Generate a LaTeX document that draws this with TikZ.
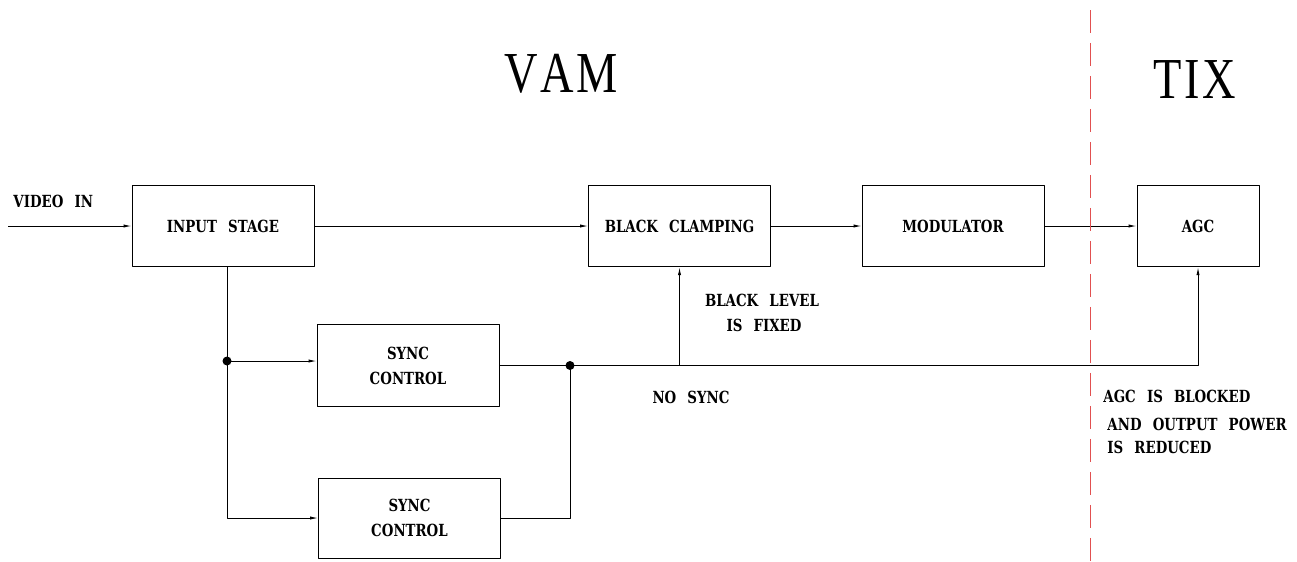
\documentclass[tikz,border=0pt]{standalone}
\usepackage{fontspec}
\setmainfont{DejaVu Serif}[FakeStretch=0.8, WordSpace=2.4]
\newfontfamily\titlefont{Liberation Serif}
\usetikzlibrary{arrows.meta,calc}
\definecolor{cutred}{RGB}{225,80,80}
\tikzset{
  blk/.style={draw, line width=0.5pt, minimum width=3.64cm, minimum height=1.63cm, align=center, inner sep=0pt},
  lbl/.style={align=left, inner sep=0pt},
  dot/.style={circle, fill=black, inner sep=0pt, minimum size=0.18cm},
  ttl/.style={font=\titlefont\fontsize{33}{36}\selectfont, xscale=0.8, inner sep=0pt, anchor=base},
}
\begin{document}
\begin{tikzpicture}[x=0.02cm, y=-0.02cm, >={Latex[length=4.5pt,width=1.8pt]}, line width=0.5pt, line join=round, font=\fontsize{9.5}{14.2}\selectfont\bfseries]
	\useasboundingbox (0,0) rectangle (1297,561);
	% blocks
	\node[blk] (inp) at (223,226) {INPUT STAGE};
	\node[blk] (bc) at (679.5,226) {BLACK CLAMPING};
	\node[blk] (mod) at (953,226) {MODULATOR};
	\node[blk, minimum width=2.44cm] (agc) at (1198,226) {AGC};
	\node[blk] (sc1) at (408,365.5) {SYNC\\CONTROL};
	\node[blk, minimum height=1.6cm] (sc2) at (409.5,518) {SYNC\\CONTROL};
	% junctions
	\coordinate (vin) at (8,226);
	\node[dot] (j1) at (227,361) {};
	\node[dot] (j2) at (570,365.5) {};
	% main path
	\draw[->] (vin) -- (inp);
	\draw[->] (inp) -- (bc);
	\draw[->] (bc) -- (mod);
	\draw[->] (mod) -- (agc);
	% sync paths
	\draw (inp.south -| j1) -- (j1.center);
	\draw[->] (j1.center) -- (j1 -| sc1.west);
	\draw[->] (j1.center) |- (sc2.west);
	\draw (sc1.east) -- (j2.center);
	\draw (sc2.east) -| (j2.center);
	\draw[->] (j2.center) -| (agc.south);
	\draw[->] (bc.south |- j2) -- (bc.south);
	% labels
	\node[lbl, anchor=base west] (tvin) at (13,207) {VIDEO IN};
	\node[lbl, anchor=base] (tblk1) at (762,306) {BLACK LEVEL};
	\node[lbl, anchor=base] (tblk2) at (764,331) {IS FIXED};
	\node[lbl, anchor=base] (tns) at (691,403) {NO SYNC};
	\node[lbl, anchor=base west] (tagc1) at (1103,402) {AGC IS BLOCKED};
	\node[lbl, anchor=base west] (tagc2) at (1107,430) {AND OUTPUT POWER};
	\node[lbl, anchor=base west] (tagc3) at (1107,453) {IS REDUCED};
	\node[ttl] (tvam) at (561,92) {V\hspace{2pt}A\hspace{2pt}M};
	\node[ttl] (ttix) at (1195,98) {T\hspace{2pt}I\hspace{2pt}X};
	% divider
	\draw[cutred, line width=0.5pt, dash pattern=on 0.46cm off 0.2cm] (1090,10) -- (1090,561);
\end{tikzpicture}
\end{document}
